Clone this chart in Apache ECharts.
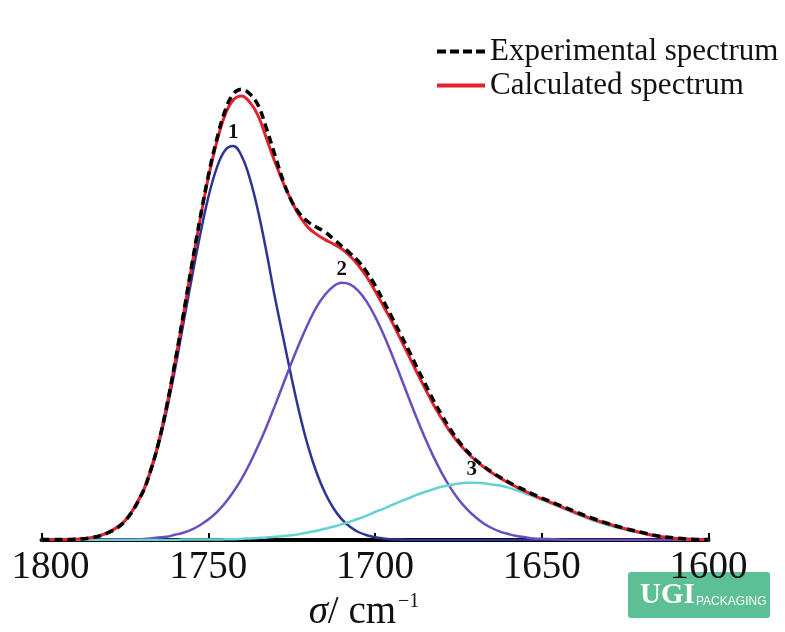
<!DOCTYPE html>
<html>
<head>
<meta charset="utf-8">
<script src="https://cdn.jsdelivr.net/npm/echarts@6/dist/echarts.min.js"></script>
<style>
  html, body { margin: 0; padding: 0; background: #fff; }
  #chart { width: 785px; height: 632px; }
</style>
</head>
<body>
<div id="chart"></div>
<script>
// wavenumber grid, cm-1 (finer around the bands)
const wavenumbers = [1800, 1795, 1790, 1785, 1780, 1775,
  1770, 1767.5, 1765, 1762.5, 1760, 1757.5, 1755, 1752.5, 1750, 1747.5,
  1745, 1742.5, 1740, 1737.5, 1735, 1732.5, 1730, 1727.5, 1725, 1722.5,
  1720, 1717.5, 1715, 1712.5, 1710, 1707.5, 1705, 1702.5, 1700, 1697.5,
  1695, 1692.5, 1690, 1687.5, 1685, 1682.5, 1680, 1677.5, 1675, 1672.5,
  1670, 1667.5, 1665, 1662.5, 1660, 1657.5, 1655, 1652.5, 1650,
  1645, 1640, 1635, 1630, 1625, 1620, 1615, 1610, 1605, 1600];

const experimental = [0.002, 0.001, 0.002, 0.006, 0.018, 0.047,
  0.113, 0.168, 0.240, 0.333, 0.443, 0.562, 0.685, 0.802, 0.910, 1.000,
  1.072, 1.115, 1.127, 1.115, 1.086, 1.028, 0.962, 0.897, 0.847, 0.815,
  0.795, 0.782, 0.770, 0.753, 0.735, 0.717, 0.697, 0.670, 0.637, 0.598,
  0.558, 0.517, 0.476, 0.433, 0.391, 0.350, 0.313, 0.278, 0.248, 0.223,
  0.202, 0.185, 0.170, 0.157, 0.145, 0.134, 0.124, 0.114, 0.105,
  0.088, 0.071, 0.055, 0.041, 0.029, 0.019, 0.010, 0.005, 0.002, 0.001];

const calculated = [0.001, 0.001, 0.002, 0.006, 0.019, 0.048,
  0.115, 0.169, 0.241, 0.333, 0.442, 0.560, 0.682, 0.798, 0.905, 0.993,
  1.062, 1.100, 1.110, 1.094, 1.060, 1.003, 0.945, 0.893, 0.847, 0.808,
  0.781, 0.764, 0.751, 0.740, 0.728, 0.710, 0.687, 0.658, 0.623, 0.585,
  0.547, 0.505, 0.463, 0.420, 0.379, 0.339, 0.304, 0.271, 0.243, 0.220,
  0.200, 0.183, 0.168, 0.155, 0.143, 0.132, 0.122, 0.112, 0.103,
  0.086, 0.069, 0.053, 0.040, 0.028, 0.018, 0.009, 0.004, 0.002, 0.001];

const peak1 = [0, 0, 0.002, 0.006, 0.019, 0.047,
  0.113, 0.165, 0.235, 0.322, 0.425, 0.539, 0.652, 0.760, 0.856, 0.929,
  0.974, 0.985, 0.960, 0.903, 0.820, 0.718, 0.606, 0.505, 0.405, 0.312,
  0.232, 0.168, 0.118, 0.080, 0.052, 0.033, 0.020, 0.012, 0.007, 0.004,
  0.002, 0.001, 0, 0, 0, 0, 0, 0, 0, 0,
  0, 0, 0, 0, 0, 0, 0, 0, 0,
  0, 0, 0, 0, 0, 0, 0, 0, 0, 0];

const peak2 = [0, 0, 0, 0, 0.001, 0.001,
  0.002, 0.004, 0.006, 0.008, 0.013, 0.018, 0.026, 0.037, 0.051, 0.069,
  0.092, 0.120, 0.153, 0.192, 0.236, 0.284, 0.336, 0.390, 0.444, 0.495,
  0.542, 0.583, 0.613, 0.634, 0.643, 0.639, 0.623, 0.596, 0.559, 0.515,
  0.465, 0.412, 0.358, 0.305, 0.255, 0.209, 0.168, 0.132, 0.102, 0.078,
  0.058, 0.042, 0.030, 0.021, 0.015, 0.010, 0.007, 0.004, 0.003,
  0.001, 0, 0, 0, 0, 0, 0, 0, 0, 0];

const peak3 = [0, 0, 0, 0, 0, 0,
  0, 0, 0, 0, 0, 0.001, 0.001, 0.001, 0.001, 0.001,
  0.002, 0.002, 0.003, 0.004, 0.005, 0.006, 0.008, 0.010, 0.012, 0.015,
  0.019, 0.023, 0.028, 0.033, 0.039, 0.046, 0.053, 0.061, 0.070, 0.078,
  0.087, 0.096, 0.104, 0.113, 0.120, 0.127, 0.133, 0.137, 0.141, 0.143,
  0.143, 0.142, 0.139, 0.136, 0.131, 0.124, 0.117, 0.109, 0.101,
  0.084, 0.066, 0.050, 0.037, 0.026, 0.017, 0.010, 0.005, 0.002, 0.002];

const peakNames = ['1', '2', '3'];
const peakCenters = [1742.5, 1710, 1671];

const serif = 'Liberation Serif';

function pairs(ys) {
  return wavenumbers.map((x, i) => [x, ys[i]]);
}

function component(ys, color, idx) {
  return {
    name: 'peak ' + peakNames[idx],
    type: 'line',
    data: pairs(ys),
    smooth: 0.4,
    symbol: 'none',
    lineStyle: { color: color, width: 2.5 },
    z: 2,
    markPoint: {
      symbol: 'circle',
      symbolSize: 1,
      itemStyle: { color: 'rgba(0,0,0,0)' },
      label: {
        show: true,
        position: 'top',
        distance: 2,
        formatter: peakNames[idx],
        fontFamily: serif,
        fontWeight: 'bold',
        fontSize: 21,
        color: '#111'
      },
      data: [{ coord: [peakCenters[idx], Math.max(...ys)] }]
    }
  };
}

const chart = echarts.init(document.getElementById('chart'));

const option = {
  animation: false,
  backgroundColor: '#fff',
  grid: { left: 41.5, right: 76.5, top: 60, bottom: 92, outerBoundsMode: 'none' },
  legend: {
    orient: 'vertical',
    left: 437,
    top: 36,
    padding: 0,
    itemWidth: 48,
    itemHeight: 4,
    itemGap: 3,
    textStyle: { fontFamily: serif, fontSize: 31, lineHeight: 31, color: '#111' },
    data: [
      { name: 'Experimental spectrum', icon: 'path://M0,0h9v4h-9z M13,0h9v4h-9z M26,0h9v4h-9z M39,0h9v4h-9z' },
      { name: 'Calculated spectrum', icon: 'path://M0,0h48v4h-48z' }
    ]
  },
  xAxis: {
    type: 'value',
    inverse: true,
    min: 1600,
    max: 1800,
    interval: 50,
    axisLine: { lineStyle: { color: '#000', width: 4 } },
    axisTick: { inside: true, length: 7, lineStyle: { color: '#000', width: 2 } },
    splitLine: { show: false },
    axisLabel: {
      fontFamily: serif, fontSize: 39, color: '#111', margin: 8,
      formatter: (v) => (v === 1800 ? '{first|1800}' : String(v)),
      rich: {
        first: { fontFamily: serif, fontSize: 39, color: '#111', padding: [0, 0, 0, 18] }
      }
    },
    name: '{s|σ}{n|/ cm}{p|−1}',
    nameLocation: 'middle',
    nameGap: 41,
    nameTextStyle: {
      rich: {
        s: { fontFamily: serif, fontStyle: 'italic', fontSize: 39, color: '#111' },
        n: { fontFamily: serif, fontSize: 39, color: '#111' },
        p: { fontFamily: serif, fontSize: 20, color: '#111', padding: [0, 22, 22, 2] }
      }
    }
  },
  yAxis: {
    type: 'value',
    min: 0,
    max: 1.2,
    show: false
  },
  series: [
    component(peak1, '#2c3592', 0),
    component(peak2, '#6a4ec0', 1),
    component(peak3, '#66d1d1', 2),
    {
      name: 'Calculated spectrum',
      type: 'line',
      data: pairs(calculated),
      smooth: 0.4,
      symbol: 'none',
      lineStyle: { color: '#e3222b', width: 3 },
      itemStyle: { color: '#e3222b' },
      z: 3
    },
    {
      name: 'Experimental spectrum',
      type: 'line',
      data: pairs(experimental),
      smooth: 0.4,
      symbol: 'none',
      lineStyle: { color: '#000', width: 3.5, type: [8, 5] },
      itemStyle: { color: '#000' },
      z: 4
    }
  ],
  graphic: [
    {
      type: 'group',
      left: 628,
      top: 572,
      children: [
        { type: 'rect', shape: { x: 0, y: 0, width: 142, height: 46, r: 3 }, style: { fill: '#5dbf95' } },
        { type: 'text', x: 12, y: 9, style: { text: 'UGI', font: 'bold 29px "Liberation Serif"', fill: '#fff' } },
        { type: 'text', x: 68, y: 24, style: { text: 'PACKAGING', font: '12px "Liberation Sans"', fill: '#fff' } }
      ]
    }
  ]
};

chart.setOption(option);
</script>
</body>
</html>
